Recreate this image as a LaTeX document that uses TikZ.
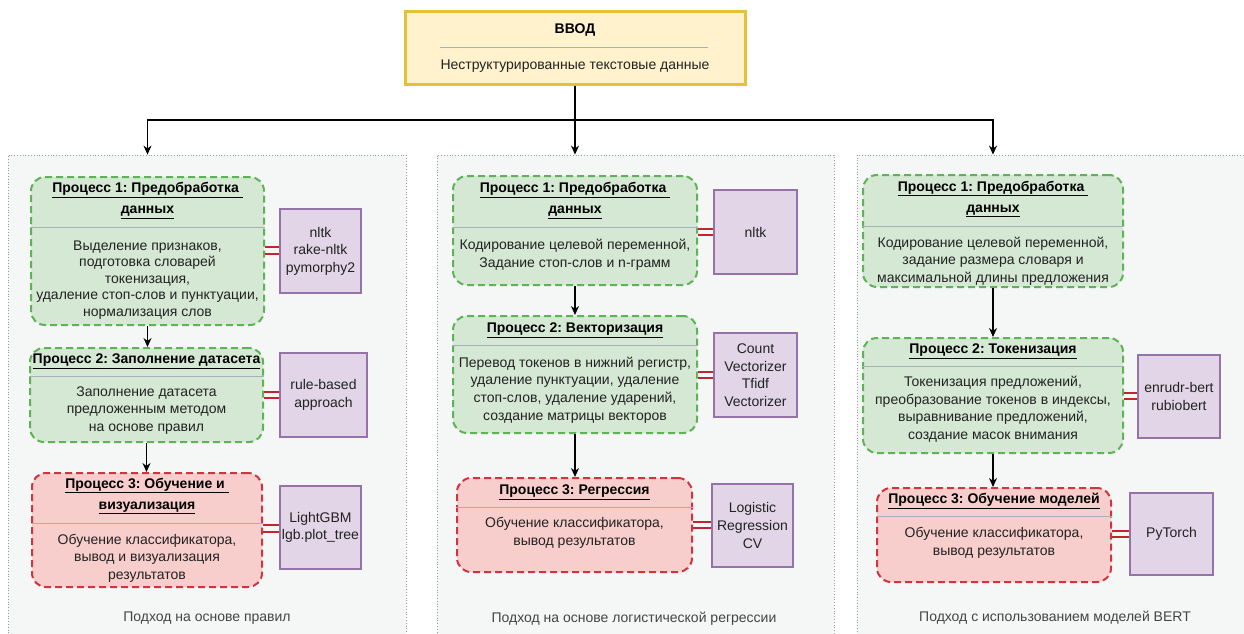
\documentclass[tikz,border=0pt]{standalone}
\usepackage{fontspec}
\setmainfont{Liberation Sans}
\usetikzlibrary{arrows.meta}
\definecolor{gfill}{HTML}{D5E8D4}
\definecolor{gline}{HTML}{5DB356}
\definecolor{rfill}{HTML}{F8CECC}
\definecolor{rline}{HTML}{D0353F}
\definecolor{pfill}{HTML}{E1D5E7}
\definecolor{pline}{HTML}{9673A6}
\definecolor{yfill}{HTML}{FFF2CC}
\definecolor{yline}{HTML}{E3C23A}
\definecolor{cfill}{HTML}{F5F6F6}
\definecolor{cline}{HTML}{9A9A9A}
\definecolor{dline}{HTML}{A7B0BA}
\definecolor{txt}{HTML}{222222}
\definecolor{lbl}{HTML}{444444}
\definecolor{dblc}{HTML}{C0262D}
\tikzset{
 every node/.style={font=\fontsize{14}{17.6}\selectfont, text=txt, inner sep=0pt},
 cont/.style={draw=cline, fill=cfill, dotted, line width=0.8pt},
 proc/.style={rounded corners=14pt, dash pattern=on 7pt off 4pt, line width=2pt},
 gproc/.style={proc, draw=gline, fill=gfill},
 rproc/.style={proc, draw=rline, fill=rfill},
 tool/.style={draw=pline, fill=pfill, line width=1.3pt, align=center},
 ttl/.style={font=\bfseries\fontsize{14}{21}\selectfont, align=center, text=black},
 body/.style={align=center},
 lab/.style={text=lbl},
 div/.style={draw=dline, line width=1pt},
 arr/.style={-{Stealth[length=9pt,width=8pt]}, line width=1.2pt, black},
 dbl/.style={draw=dblc, line width=2pt}
}
\frenchspacing
\begin{document}
\begin{tikzpicture}[x=1pt,y=-1pt]
\useasboundingbox (0,0) rectangle (1244,634);
\clip (0,0) rectangle (1244,634);
% containers
\node[cont, minimum width=398, minimum height=485] (c1) at (207,397.5) {};
\node[cont, minimum width=397, minimum height=485] (c2) at (635.5,397.5) {};
\node[cont, minimum width=403, minimum height=485] (c3) at (1058.5,397.5) {};
% top
\node[draw=yline, fill=yfill, line width=3pt, minimum width=340, minimum height=72] (top) at (575,48) {};
\node[font=\bfseries\fontsize{14}{17}\selectfont, text=black] (tt) at (575,30) {ВВОД};
\draw[div] (440,48) -- (708,48);
\node (tb) at (575,66) {Неструктурированные текстовые данные};
\coordinate (j) at (575,120);
% left column
\node[gproc, minimum width=233, minimum height=148] (p11) at (147.5,251) {};
\node[ttl] at (147.5,200.5) {\underline{Процесс 1: Предобработка }\\\underline{данных}};
\draw[div] (p11.west |- 0,227) -- (p11.east |- 0,227);
\node[body, font=\fontsize{14}{16.6}\selectfont] at (147.5,280) {Выделение признаков,\\подготовка словарей\\токенизация,\\удаление стоп-слов и пунктуации,\\нормализация слов};
\node[tool, minimum width=81, minimum height=84] (t11) at (320.5,251) {nltk\\rake-nltk\\pymorphy2};
\draw[dbl] (p11.east |- 0,247) -- (t11.west |- 0,247);
\draw[dbl] (p11.east |- 0,254) -- (t11.west |- 0,254);

\node[gproc, minimum width=233, minimum height=94] (p12) at (146.5,395) {};
\node[ttl] at (146.5,361) {\underline{Процесс 2: Заполнение датасета}};
\draw[div] (p12.west |- 0,376) -- (p12.east |- 0,376);
\node[body] at (146.5,410.5) {Заполнение датасета\\предложенным методом\\на основе правил};
\node[tool, minimum width=87, minimum height=84] (t12) at (323.5,395) {rule-based\\approach};
\draw[dbl] (p12.east |- 0,392) -- (t12.west |- 0,392);
\draw[dbl] (p12.east |- 0,398) -- (t12.west |- 0,398);

\node[rproc, minimum width=230, minimum height=114] (p13) at (147,530) {};
\node[ttl] at (147,496) {\underline{Процесс 3: Обучение и }\\\underline{визуализация}};
\draw[div] (p13.west |- 0,523) -- (p13.east |- 0,523);
\node[body] at (147,558) {Обучение классификатора,\\вывод и визуализация\\результатов};
\node[tool, minimum width=81, minimum height=83] (t13) at (320.5,527.5) {LightGBM\\lgb.plot\_tree};
\draw[dbl] (p13.east |- 0,525) -- (t13.west |- 0,525);
\draw[dbl] (p13.east |- 0,532) -- (t13.west |- 0,532);
\node[lab] (l1) at (207,618) {Подход на основе правил};

% middle column
\node[gproc, minimum width=244, minimum height=109] (p21) at (575,230.5) {};
\node[ttl] at (575,200.5) {\underline{Процесс 1: Предобработка }\\\underline{данных}};
\draw[div] (p21.west |- 0,227) -- (p21.east |- 0,227);
\node[body] at (575,255) {Кодирование целевой переменной,\\Задание стоп-слов и n-грамм};
\node[tool, minimum width=83, minimum height=84] (t21) at (755.5,232) {nltk};
\draw[dbl] (p21.east |- 0,229) -- (t21.west |- 0,229);
\draw[dbl] (p21.east |- 0,235) -- (t21.west |- 0,235);

\node[gproc, minimum width=244, minimum height=117] (p22) at (575,374.5) {};
\node[ttl] at (575,330) {\underline{Процесс 2: Векторизация}};
\draw[div] (p22.west |- 0,345) -- (p22.east |- 0,345);
\node[body] at (575,390) {Перевод токенов в нижний регистр,\\удаление пунктуации, удаление\\стоп-слов, удаление ударений,\\создание матрицы векторов};
\node[tool, minimum width=83, minimum height=84] (t22) at (755.5,375) {Count\\Vectorizer\\Tfidf\\Vectorizer};
\draw[dbl] (p22.east |- 0,372) -- (t22.west |- 0,372);
\draw[dbl] (p22.east |- 0,378) -- (t22.west |- 0,378);

\node[rproc, minimum width=235, minimum height=94] (p23) at (574.5,525) {};
\node[ttl] at (574.5,492) {\underline{Процесс 3: Регрессия}};
\draw[div] (p23.west |- 0,507) -- (p23.east |- 0,507);
\node[body] at (574.5,533) {Обучение классификатора,\\вывод результатов};
\node[tool, minimum width=81, minimum height=83] (t23) at (752.5,525.5) {Logistic\\Regression\\CV};
\draw[dbl] (p23.east |- 0,522) -- (t23.west |- 0,522);
\draw[dbl] (p23.east |- 0,528) -- (t23.west |- 0,528);
\node[lab] (l2) at (634,619) {Подход на основе логистической регрессии};

% right column
\node[gproc, minimum width=260, minimum height=112] (p31) at (993,231) {};
\node[ttl] at (993,199) {\underline{Процесс 1: Предобработка }\\\underline{данных}};
\draw[div] (p31.west |- 0,226) -- (p31.east |- 0,226);
\node[body] at (993,261) {Кодирование целевой переменной,\\задание размера словаря и\\максимальной длины предложения};

\node[gproc, minimum width=260, minimum height=115] (p32) at (993,395.5) {};
\node[ttl] at (993,351) {\underline{Процесс 2: Токенизация}};
\draw[div] (p32.west |- 0,366) -- (p32.east |- 0,366);
\node[body] at (993,409) {Токенизация предложений,\\преобразование токенов в индексы,\\выравнивание предложений,\\создание масок внимания};
\node[tool, minimum width=82, minimum height=83] (t32) at (1179,396.5) {enrudr-bert\\rubiobert};
\draw[dbl] (p32.east |- 0,393) -- (t32.west |- 0,393);
\draw[dbl] (p32.east |- 0,399) -- (t32.west |- 0,399);

\node[rproc, minimum width=234, minimum height=94] (p33) at (994,535) {};
\node[ttl] at (994,501) {\underline{Процесс 3: Обучение моделей}};
\draw[div] (p33.west |- 0,516) -- (p33.east |- 0,516);
\node[body] at (994,543) {Обучение классификатора,\\вывод результатов};
\node[tool, minimum width=83, minimum height=82] (t33) at (1171.5,534) {PyTorch};
\draw[dbl] (p33.east |- 0,531) -- (t33.west |- 0,531);
\draw[dbl] (p33.east |- 0,537) -- (t33.west |- 0,537);
\node[lab] (l3) at (1055,618) {Подход с использованием моделей BERT};

% connectors
\draw[arr] (top.south) -- (top.south |- c2.north);
\draw[line width=1.2pt] (top.south) -- (j);
\draw[arr] (j) -| (p11.north |- c1.north);
\draw[arr] (j) -| (p31.north |- c3.north);
\draw[arr] (p11.south) -- (p11.south |- p12.north);
\draw[arr] (p12.south) -- (p12.south |- p13.north);
\draw[arr] (p21.south) -- (p21.south |- p22.north);
\draw[arr] (p22.south) -- (p22.south |- p23.north);
\draw[arr] (p31.south) -- (p31.south |- p32.north);
\draw[arr] (p32.south) -- (p32.south |- p33.north);
\end{tikzpicture}
\end{document}
